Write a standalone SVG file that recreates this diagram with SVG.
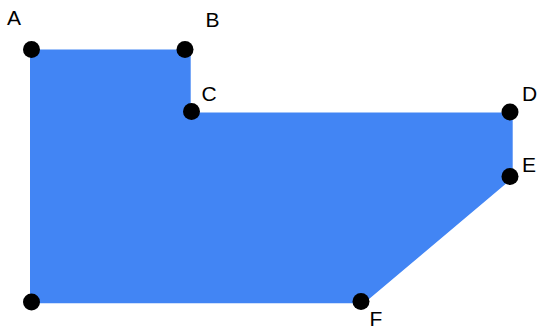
<svg xmlns="http://www.w3.org/2000/svg" width="537" height="328" viewBox="0 0 537 328">
<style>
.shape{fill:#4285F4;stroke:none}
.pt{fill:#000}
.lbl{font-family:"Liberation Sans",Arial,sans-serif;font-size:21px;fill:#000}
</style>
<rect width="537" height="328" fill="#fff"/>
<g id="shape">
<polygon class="shape" points="30,49.5 190.7,49.5 190.7,112.5 512.7,112.5 512.7,178 364,303.3 30,303.3"/>
</g>
<g id="A"><circle class="pt" cx="31.5" cy="49.5" r="8.5"/><text class="lbl" x="7" y="24.5">A</text></g>
<g id="B"><circle class="pt" cx="185" cy="49.5" r="8.5"/><text class="lbl" x="205.5" y="27">B</text></g>
<g id="C"><circle class="pt" cx="191.5" cy="111.5" r="8.5"/><text class="lbl" x="201.5" y="100.5">C</text></g>
<g id="D"><circle class="pt" cx="510" cy="112" r="8.5"/><text class="lbl" x="522" y="100.5">D</text></g>
<g id="E"><circle class="pt" cx="510" cy="176.5" r="8.5"/><text class="lbl" x="522" y="172">E</text></g>
<g id="F"><circle class="pt" cx="361" cy="301.5" r="8.5"/><text class="lbl" x="369.5" y="325.5">F</text></g>
<g id="G"><circle class="pt" cx="31.5" cy="302" r="8.5"/></g>
<g id="connectors"></g>
</svg>
